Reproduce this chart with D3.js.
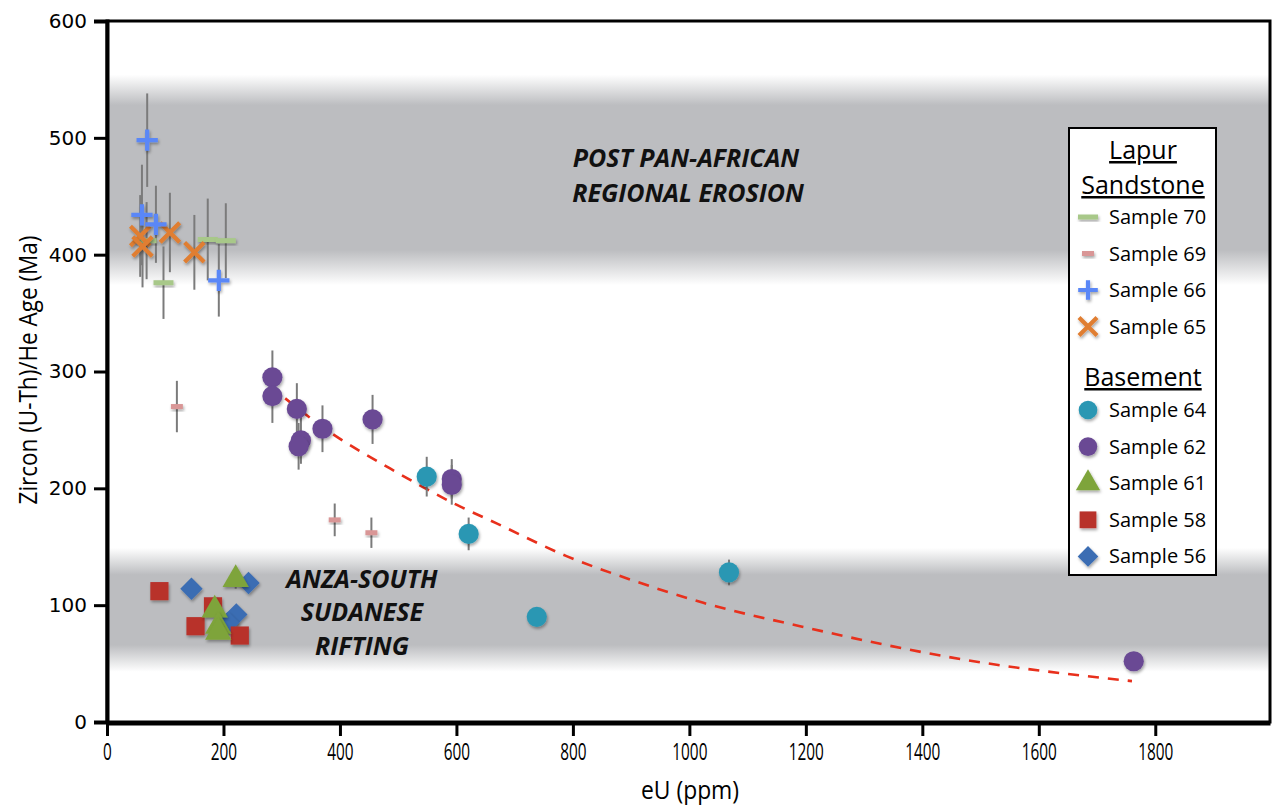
<!DOCTYPE html>
<html>
<head>
<meta charset="utf-8">
<script src="https://cdn.jsdelivr.net/npm/d3@7"></script>
<style>
  body { margin: 0; background: #fff; }
  svg { display: block; }
  .tick text { fill: #000; }
</style>
</head>
<body>
<svg id="chart" width="1276" height="810"></svg>
<script>
// [eU ppm, age Ma, error Ma]
const sample70 = [[68, 412, 33], [97, 376, 31], [173, 413, 35], [204, 412, 32]];
const sample69 = [[120, 270, 22], [391, 173, 14], [454, 162, 13]];
const sample66 = [[69, 498, 40], [60, 434, 43], [84, 426, 33], [192, 378, 31]];
const sample65 = [[57, 416, 35], [61, 407, 35], [108, 419, 34], [150, 402, 32]];
const sample64 = [[549, 210, 17], [621, 161, 14], [738, 90, 0], [1068, 128, 11]];
const sample62 = [[284, 295, 23], [284, 279, 23], [326, 268, 22], [333, 241, 20], [329, 236, 20],
  [370, 251, 20], [456, 259, 21], [592, 208, 17], [592, 203, 17], [1763, 52, 0]];
const sample61 = [[221, 122, 8], [185, 96, 6], [191, 82, 5], [191, 77, 5]];
const sample58 = [[90, 112, 6], [182, 99, 5], [152, 82, 4], [228, 74, 4]];
const sample56 = [[145, 114, 5], [243, 119, 6], [222, 92, 5], [208, 85, 4]];

// red dashed trend
const trend = [[306, 277], [383, 248], [486, 217], [600, 186], [669, 170], [789, 142],
  [904, 121], [1024, 102], [1190, 82], [1476, 53], [1760, 35]];

// grey bands: outer top, inner top, inner bottom, outer bottom (Ma)
const bandErosion = [554, 528, 404, 374];
const bandRifting = [149, 126, 66, 43];

const xTicks = [0, 200, 400, 600, 800, 1000, 1200, 1400, 1600, 1800];
const yTicks = [0, 100, 200, 300, 400, 500, 600];

const series = [
  { name: "Sample 56", data: sample56, kind: "diamond", color: "#3b6db3" },
  { name: "Sample 58", data: sample58, kind: "square", color: "#b8302b" },
  { name: "Sample 61", data: sample61, kind: "triangle", color: "#7ea43a" },
  { name: "Sample 69", data: sample69, kind: "dashSmall", color: "#d99696" },
  { name: "Sample 70", data: sample70, kind: "dash", color: "#a8c889" },
  { name: "Sample 65", data: sample65, kind: "times", color: "#e07e30" },
  { name: "Sample 66", data: sample66, kind: "plus", color: "#5a87f7" },
  { name: "Sample 64", data: sample64, kind: "circle", color: "#2b97b3" },
  { name: "Sample 62", data: sample62, kind: "circle", color: "#6a4a94" }
];

const legendTop = ["Sample 70", "Sample 69", "Sample 66", "Sample 65"];
const legendBottom = ["Sample 64", "Sample 62", "Sample 61", "Sample 58", "Sample 56"];

const svg = d3.select("#chart");
const plotLeft = 107, plotRight = 1270, plotTop = 21, plotBottom = 722;

const x = d3.scaleLinear().domain([0, 1997]).range([plotLeft, plotRight]);
const y = d3.scaleLinear().domain([0, 600]).range([plotBottom, plotTop]);

const defs = svg.append("defs");
const shadow = defs.append("filter").attr("id", "shadow")
  .attr("x", "-50%").attr("y", "-50%").attr("width", "200%").attr("height", "200%");
shadow.append("feDropShadow").attr("dx", 1).attr("dy", 2).attr("stdDeviation", 1.6)
  .attr("flood-color", "#000").attr("flood-opacity", 0.35);

// plot background + bands
svg.append("rect").attr("x", plotLeft).attr("y", plotTop).attr("width", plotRight - plotLeft)
  .attr("height", plotBottom - plotTop).attr("fill", "#fff");

function addBand(id, band) {
  const y0 = y(band[0]), y3 = y(band[3]);
  const h = y3 - y0;
  const g = defs.append("linearGradient").attr("id", id)
    .attr("x1", 0).attr("y1", 0).attr("x2", 0).attr("y2", 1);
  const grey = "#bcbdc0";
  [[0, "#fff"], [(y(band[1]) - y0) / h, grey], [(y(band[2]) - y0) / h, grey], [1, "#fff"]]
    .forEach(([o, c]) => g.append("stop").attr("offset", o).attr("stop-color", c));
  svg.append("rect").attr("x", plotLeft).attr("y", y0).attr("width", plotRight - plotLeft)
    .attr("height", h).attr("fill", `url(#${id})`);
}
addBand("bandTop", bandErosion);
addBand("bandLow", bandRifting);

// band labels
const note = svg.append("g")
  .attr("font-family", "'Open Sans', sans-serif")
  .attr("font-weight", "bold").attr("font-style", "italic")
  .attr("font-size", 25).attr("fill", "#111").attr("text-anchor", "middle");
[["POST PAN-AFRICAN", 686, 167], ["REGIONAL EROSION", 688, 202]].forEach(([t, tx, ty]) =>
  note.append("text").attr("x", tx).attr("y", ty).text(t));
[["ANZA-SOUTH", 362, 588], ["SUDANESE", 362, 621], ["RIFTING", 362, 655]].forEach(([t, tx, ty]) =>
  note.append("text").attr("x", tx).attr("y", ty).text(t));

// trend line
svg.append("path").datum(trend)
  .attr("fill", "none").attr("stroke", "#e8301c").attr("stroke-width", 2.6)
  .attr("stroke-dasharray", "11,9")
  .attr("d", d3.line().x((d) => x(d[0])).y((d) => y(d[1])).curve(d3.curveMonotoneX));

function markerPath(kind, scale = 1) {
  switch (kind) {
    case "circle": return d3.symbol(d3.symbolCircle, 320 * scale)();
    case "square": return d3.symbol(d3.symbolSquare, 330 * scale)();
    case "triangle": return d3.symbol(d3.symbolTriangle, 300 * scale)();
    case "diamond": return d3.symbol(d3.symbolDiamond2, 320 * scale)();
    case "plus": return d3.symbol(d3.symbolPlus, 150 * scale)();
    case "times": return d3.symbol(d3.symbolTimes, 250 * scale)();
    case "dash": return "M-10,-2.5H10V2.5H-10Z";
    case "dashSmall": return "M-6,-2.5H6V2.5H-6Z";
  }
}
const stroked = new Set(["plus", "times"]);

function drawMarker(sel, s, scale = 1) {
  sel.append("path")
    .attr("d", markerPath(s.kind, scale))
    .attr("fill", stroked.has(s.kind) ? "none" : s.color)
    .attr("stroke", stroked.has(s.kind) ? s.color : "none")
    .attr("stroke-width", stroked.has(s.kind) ? 4.2 : 0)
    .attr("filter", "url(#shadow)");
}

// error bars first, then markers
const errLayer = svg.append("g");
series.forEach((s) => {
  errLayer.selectAll(null).data(s.data.filter((d) => d[2] > 0)).join("line")
    .attr("x1", (d) => x(d[0])).attr("x2", (d) => x(d[0]))
    .attr("y1", (d) => y(d[1] + d[2])).attr("y2", (d) => y(d[1] - d[2]))
    .attr("stroke", "#7b7b7b").attr("stroke-width", 2);
});

const markLayer = svg.append("g");
series.forEach((s) => {
  markLayer.selectAll(null).data(s.data).join("g")
    .attr("transform", (d) => `translate(${x(d[0])},${y(d[1])})`)
    .each(function () { drawMarker(d3.select(this), s); });
});

// frame
svg.append("rect").attr("x", plotLeft).attr("y", plotTop).attr("width", plotRight - plotLeft)
  .attr("height", plotBottom - plotTop).attr("fill", "none")
  .attr("stroke", "#000").attr("stroke-width", 3);

// axes
const yAxis = svg.append("g").attr("transform", `translate(${plotLeft},0)`)
  .call(d3.axisLeft(y).tickValues(yTicks).tickSize(13).tickPadding(7).tickFormat(d3.format("d")));
yAxis.select(".domain").attr("stroke-width", 4);
yAxis.selectAll(".tick line").attr("stroke-width", 3);
yAxis.selectAll(".tick text").attr("font-family", "'DejaVu Sans', sans-serif").attr("font-size", 20);

const xAxis = svg.append("g").attr("transform", `translate(0,${plotBottom + 1})`)
  .call(d3.axisBottom(x).tickValues(xTicks).tickSize(13).tickPadding(7).tickSizeOuter(0)
    .tickFormat(d3.format("d")));
xAxis.select(".domain").attr("stroke-width", 4);
xAxis.selectAll(".tick text").attr("font-family", "'Open Sans', sans-serif").attr("font-size", 24)
  .attr("transform", "scale(0.64,1)");
xAxis.selectAll(".tick line").attr("stroke-width", 3);

svg.append("text").attr("transform", "translate(690,799) scale(0.88,1)").attr("text-anchor", "middle")
  .attr("font-family", "'Open Sans', sans-serif").attr("font-size", 26)
  .text("eU (ppm)");
svg.append("text").attr("transform", "translate(37,370) rotate(-90) scale(0.9,1)").attr("text-anchor", "middle")
  .attr("font-family", "'Open Sans', sans-serif").attr("font-size", 25)
  .text("Zircon (U-Th)/He Age (Ma)");

// legend
const lg = svg.append("g").attr("font-family", "'Open Sans', sans-serif");
lg.append("rect").attr("x", 1069).attr("y", 128).attr("width", 147).attr("height", 447)
  .attr("fill", "#fff").attr("stroke", "#000").attr("stroke-width", 2);
[["Lapur", 159], ["Sandstone", 194], ["Basement", 386]].forEach(([t, ty]) => {
  lg.append("text").attr("x", 1143).attr("y", ty).attr("text-anchor", "middle")
    .attr("font-size", 25).attr("text-decoration", "underline").text(t);
});
const byName = new Map(series.map((s) => [s.name, s]));
const rows = legendTop.map((n, i) => [n, 217 + i * 36.5])
  .concat(legendBottom.map((n, i) => [n, 410 + i * 36.6]));
rows.forEach(([n, ry]) => {
  const s = byName.get(n);
  const g = lg.append("g").attr("transform", `translate(1088,${ry})`);
  drawMarker(g, s, 0.85);
  lg.append("text").attr("x", 1109).attr("y", ry + 7).attr("font-size", 20).text(n);
});
</script>
</body>
</html>
